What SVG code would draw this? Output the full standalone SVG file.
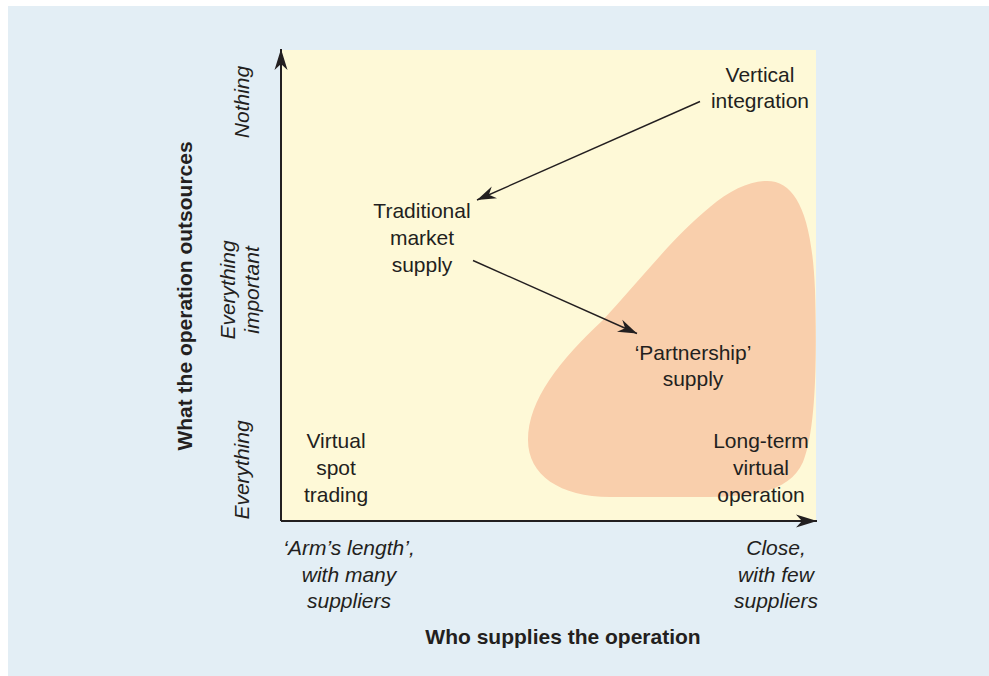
<svg xmlns="http://www.w3.org/2000/svg" width="989" height="676" viewBox="0 0 989 676">
<style>
.t{font-family:"Liberation Sans",Arial,sans-serif;font-size:21px;fill:#231f20;text-anchor:middle}
.i{font-style:italic}
.b{font-weight:bold}
.ln{stroke:#231f20;stroke-width:1.4;fill:none}
.ax{stroke:#231f20;stroke-width:2;fill:none}
</style>
<defs>
<marker id="ah" markerUnits="userSpaceOnUse" markerWidth="24" markerHeight="16" viewBox="-20 -8 22 16" refX="0" refY="0" orient="auto">
<path d="M0,0 L-19,-6.5 L-13,0 L-19,6.5 Z" fill="#231f20"/>
</marker>
<marker id="axh" markerUnits="userSpaceOnUse" markerWidth="24" markerHeight="16" viewBox="-22 -8 24 16" refX="0" refY="0" orient="auto">
<path d="M0,0 L-21,-6.5 L-15,0 L-21,6.5 Z" fill="#231f20"/>
</marker>
</defs>
<rect x="8" y="6" width="981" height="670" fill="#e3eef5"/>
<rect x="281" y="50" width="535" height="471" fill="#fef9d7"/>
<path id="region" d="M767,181 C796,181 812,215 815,290 C817,360 816,430 803,462 C790,490 760,497 700,497 L610,497 C560,497 528,475 528,440 C528,400 560,360 603,320 C640,280 675,235 710,207 C730,190 750,181 767,181 Z" fill="#f9cfac"/>
<g id="axes">
<line class="ax" x1="281" y1="521" x2="281" y2="49" marker-end="url(#axh)"/>
<line class="ax" x1="281" y1="521" x2="817" y2="521" marker-end="url(#axh)"/>
</g>
<g id="connectors">
<line class="ln" x1="700" y1="101.5" x2="477" y2="200" marker-end="url(#ah)"/>
<line class="ln" x1="473" y1="260.5" x2="637" y2="333.5" marker-end="url(#ah)"/>
</g>
<g id="vertical-integration"><text class="t" x="760" y="82">Vertical</text><text class="t" x="760" y="108">integration</text></g>
<g id="traditional"><text class="t" x="422" y="218">Traditional</text><text class="t" x="422" y="245">market</text><text class="t" x="422" y="272">supply</text></g>
<g id="partnership"><text class="t" x="693" y="360">‘Partnership’</text><text class="t" x="693" y="386">supply</text></g>
<g id="virtual-spot"><text class="t" x="336" y="448">Virtual</text><text class="t" x="336" y="475">spot</text><text class="t" x="336" y="502">trading</text></g>
<g id="long-term"><text class="t" x="761" y="448">Long-term</text><text class="t" x="761" y="475">virtual</text><text class="t" x="761" y="502">operation</text></g>
<g id="y-labels">
<text class="t i" transform="translate(249,102) rotate(-90)">Nothing</text>
<text class="t i" transform="translate(235,290) rotate(-90)">Everything</text>
<text class="t i" transform="translate(259,290) rotate(-90)">important</text>
<text class="t i" transform="translate(249,470) rotate(-90)">Everything</text>
<text class="t b" transform="translate(192,296) rotate(-90)">What the operation outsources</text>
</g>
<g id="x-labels">
<text class="t i" x="349" y="555">‘Arm’s length’,</text>
<text class="t i" x="349" y="582">with many</text>
<text class="t i" x="349" y="608">suppliers</text>
<text class="t i" x="776" y="555">Close,</text>
<text class="t i" x="776" y="582">with few</text>
<text class="t i" x="776" y="608">suppliers</text>
<text class="t b" x="563" y="644">Who supplies the operation</text>
</g>
</svg>
